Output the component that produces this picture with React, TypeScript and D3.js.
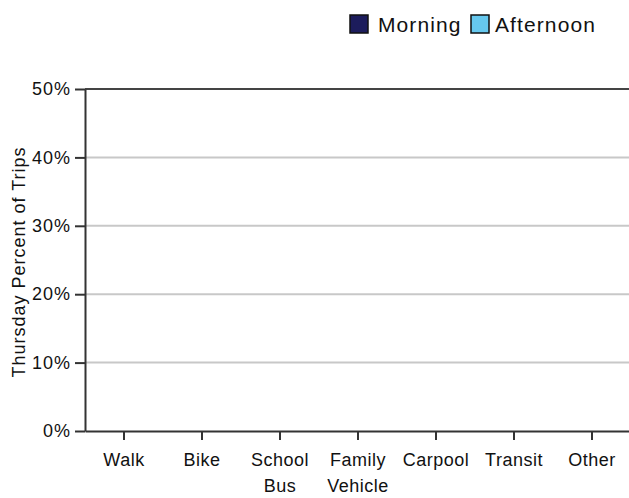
import React, { useEffect, useRef } from 'react';
import * as d3 from 'd3';

const categories = ['Walk', 'Bike', 'School Bus', 'Family Vehicle', 'Carpool', 'Transit', 'Other'];
const categoryLines = [['Walk'], ['Bike'], ['School', 'Bus'], ['Family', 'Vehicle'], ['Carpool'], ['Transit'], ['Other']];
const seriesNames = ['Morning', 'Afternoon'];
const seriesColors = ['#1c1c5c', '#66c8ee'];
const morning = [0, 0, 0, 0, 0, 0, 0];
const afternoon = [0, 0, 0, 0, 0, 0, 0];
const yTicks = [0, 0.1, 0.2, 0.3, 0.4, 0.5];

const App = () => {
  const svgRef: any = useRef();

  useEffect(() => {
    const width = 629;
    const height = 498;
    const left = 85, top = 89, bottom = 431, right = 631;
    const font = 'Arial, "Liberation Sans", sans-serif';

    const svg = d3.select(svgRef.current);
    svg.selectAll('*').remove();
    svg.attr('width', width).attr('height', height);

    const x = d3.scaleBand().domain(categories).range([left, right]);
    const xs = d3.scaleBand().domain(seriesNames).range([0, x.bandwidth()]).paddingInner(0.05).paddingOuter(0.3);
    const y = d3.scaleLinear().domain([0, 0.5]).range([bottom, top]);

    // gridlines
    svg.append('g')
      .selectAll('line')
      .data(yTicks.filter(t => t > 0 && t < 0.5))
      .join('line')
      .attr('x1', left).attr('x2', right)
      .attr('y1', d => y(d)).attr('y2', d => y(d))
      .attr('stroke', '#c8c8c8').attr('stroke-width', 2);

    // top frame line
    svg.append('line')
      .attr('x1', left).attr('x2', right)
      .attr('y1', y(0.5)).attr('y2', y(0.5))
      .attr('stroke', '#444').attr('stroke-width', 2);

    // bars
    const series = [morning, afternoon];
    series.forEach((vals, si) => {
      svg.append('g')
        .selectAll('rect')
        .data(vals)
        .join('rect')
        .attr('x', (d, i) => (x(categories[i]) as number) + (xs(seriesNames[si]) as number))
        .attr('width', xs.bandwidth())
        .attr('y', d => y(d))
        .attr('height', d => y(0) - y(d))
        .attr('fill', seriesColors[si])
        .attr('stroke', '#000');
    });

    // y axis
    const yAxis = svg.append('g')
      .attr('transform', `translate(${left},0)`)
      .call(d3.axisLeft(y).tickValues(yTicks).tickFormat(d3.format('.0%')).tickSize(10).tickSizeOuter(0));
    yAxis.select('.domain').attr('stroke', '#333').attr('stroke-width', 2);
    yAxis.selectAll('.tick line').attr('stroke', '#333').attr('stroke-width', 2);
    yAxis.selectAll('.tick text')
      .attr('x', -14)
      .attr('fill', '#111')
      .style('font-family', font)
      .style('font-size', '18px')
      .style('letter-spacing', '1px');

    // x axis
    const xAxis = svg.append('g')
      .attr('transform', `translate(0,${bottom})`)
      .call(d3.axisBottom(x).tickSize(9).tickSizeOuter(0).tickFormat(() => ''));
    xAxis.select('.domain').attr('stroke', '#333').attr('stroke-width', 2);
    xAxis.selectAll('.tick line').attr('stroke', '#333').attr('stroke-width', 2);

    const labels = svg.append('g');
    categories.forEach((c, i) => {
      const cx = (x(c) as number) + x.bandwidth() / 2;
      const t = labels.append('text')
        .attr('x', cx)
        .attr('y', 466)
        .attr('text-anchor', 'middle')
        .attr('fill', '#111')
        .style('font-family', font)
        .style('font-size', '18px')
        .style('letter-spacing', '0.5px');
      categoryLines[i].forEach((line, li) => {
        t.append('tspan')
          .attr('x', cx)
          .attr('dy', li === 0 ? 0 : 26)
          .text(line);
      });
    });

    // y title
    svg.append('text')
      .attr('transform', `translate(25,${(top + bottom) / 2 + 2}) rotate(-90)`)
      .attr('text-anchor', 'middle')
      .attr('fill', '#111')
      .style('font-family', font)
      .style('font-size', '18px')
      .style('letter-spacing', '1px')
      .text('Thursday Percent of Trips');

    // legend
    const legendX = [350, 471];
    const legendTextX = [378, 495];
    const legend = svg.append('g');
    seriesNames.forEach((s, i) => {
      legend.append('rect')
        .attr('x', legendX[i]).attr('y', 15)
        .attr('width', 18).attr('height', 18)
        .attr('fill', seriesColors[i])
        .attr('stroke', '#111').attr('stroke-width', 1.5);
      legend.append('text')
        .attr('x', legendTextX[i]).attr('y', 32)
        .attr('fill', '#111')
        .style('font-family', font)
        .style('font-size', '21px')
        .style('letter-spacing', '1.1px')
        .text(s);
    });
  }, []);

  return (
    <svg ref={svgRef} style={{ position: 'absolute', left: 0, top: 0, background: '#fff' }}></svg>
  );
};

export default App;
